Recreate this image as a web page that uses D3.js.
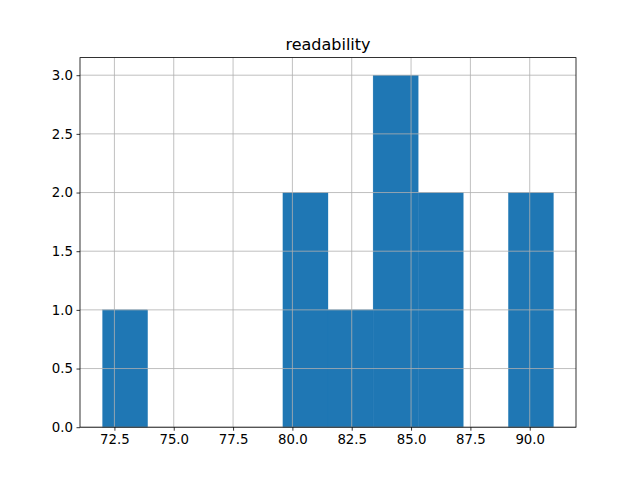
<!DOCTYPE html>
<html><head><meta charset="utf-8">
<script src="https://cdn.jsdelivr.net/npm/d3@7"></script>
<style>body{margin:0;background:#fff}svg{display:block}</style>
</head><body>
<svg id="c" width="640" height="480"></svg>
<script>
const title = "readability";
const binEdges = [72, 73.9, 75.8, 77.7, 79.6, 81.5, 83.4, 85.3, 87.2, 89.1, 91];
const binCounts = [1, 0, 0, 0, 2, 1, 3, 2, 0, 2];
const xTicks = [72.5, 75, 77.5, 80, 82.5, 85, 87.5, 90];
const yTicks = [0, 0.5, 1, 1.5, 2, 2.5, 3];

const W = 640, H = 480;
const L = 80, R = 576, T = 57.6, B = 427.2;
const svg = d3.select("#c");
const font = "DejaVu Sans, sans-serif";

const xMin = binEdges[0], xMax = binEdges[binEdges.length - 1];
const xPad = (xMax - xMin) * 0.05;
const x = d3.scaleLinear().domain([xMin - xPad, xMax + xPad]).range([L, R]);
const yMax = d3.max(binCounts) * 1.05;
const y = d3.scaleLinear().domain([0, yMax]).range([B, T]);

const bins = binCounts.map((c, i) => ({x0: binEdges[i], x1: binEdges[i + 1], c}));
svg.append("g").selectAll("rect").data(bins.filter(d => d.c > 0)).join("rect")
  .attr("x", d => x(d.x0)).attr("width", d => x(d.x1) - x(d.x0))
  .attr("y", d => y(d.c)).attr("height", d => y(0) - y(d.c))
  .attr("fill", "#1f77b4").attr("stroke", "#1f77b4").attr("stroke-width", 0.3);

// grid
const g = svg.append("g").attr("stroke", "#b0b0b0").attr("stroke-width", 0.8);
g.selectAll(".vx").data(xTicks).join("line")
  .attr("x1", d => x(d)).attr("x2", d => x(d)).attr("y1", T).attr("y2", B);
g.selectAll(".hy").data(yTicks).join("line")
  .attr("x1", L).attr("x2", R).attr("y1", d => y(d)).attr("y2", d => y(d));

// axes
const xAxis = d3.axisBottom(x).tickValues(xTicks).tickFormat(d3.format(".1f")).tickSize(3.5).tickPadding(3.5);
const yAxis = d3.axisLeft(y).tickValues(yTicks).tickFormat(d3.format(".1f")).tickSize(3.5).tickPadding(3.5);
const gx = svg.append("g").attr("transform", `translate(0,${B})`).call(xAxis);
const gy = svg.append("g").attr("transform", `translate(${L},0)`).call(yAxis);
[gx, gy].forEach(a => {
  a.select(".domain").remove();
  a.selectAll("line").attr("stroke", "#000").attr("stroke-width", 0.8);
  a.selectAll("text").attr("font-family", font).attr("font-size", "13.33px").attr("fill", "#000");
});

// spines
svg.append("rect").attr("x", L).attr("y", T).attr("width", R - L).attr("height", B - T)
  .attr("fill", "none").attr("stroke", "#000").attr("stroke-width", 0.8);

svg.append("text").attr("x", (L + R) / 2).attr("y", T - 8).attr("text-anchor", "middle")
  .attr("font-family", font).attr("font-size", "16px").text(title);
</script>
</body></html>
